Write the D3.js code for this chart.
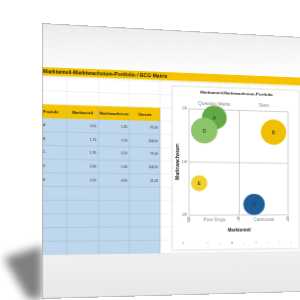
<!DOCTYPE html>
<html><head><meta charset="utf-8">
<script src="https://cdn.jsdelivr.net/npm/d3@7"></script>
<style>
html,body{margin:0;padding:0;width:300px;height:300px;overflow:hidden;background:#fff;}
#bg{position:absolute;left:0;top:0;}
#page{position:absolute;left:0;top:0;transform-origin:0 0;
 transform:matrix3d(1.09565,0.065565,0,0.00031673,0,1,0,0,0,0,1,0,42,23,0,1);}
text{font-family:"Liberation Sans",Arial,sans-serif;}
</style></head><body>
<svg id="bg" width="300" height="300"></svg>
<svg id="page" width="260" height="276"></svg>
<script>
// ---- data ----
const products = ["A","B","C","D","E"];
const marketShare = [0.50,1.70,1.30,0.30,0.20];
const marketGrowth = [1.85,1.60,0.20,1.60,0.60];
const revenue = [95,108,75,108,41];
const bubbleColors = ["#62a846","#f0c000","#1f5d96","#8cc56a","#f2d02f"];
const tableHeaders = ["Produkt","Marktanteil","Marktwachstum","Umsatz"];
const quadrantLabels = ["Question Marks","Stars","Poor Dogs","Cashcows"];
const axisTicks = [0,1,2];
const pageTitle = "Marktanteil-Marktwachstum-Portfolio / BCG-Matrix";
const chartTitle = "Marktanteil-Marktwachstum-Portfolio";
const xTitle = "Marktanteil";
const yTitle = "Marktwachstum";

const fmt = v => v.toFixed(2).replace(".", ",");
const rows = products.map((p,i)=>({p, s:marketShare[i], g:marketGrowth[i], r:revenue[i], c:bubbleColors[i]}));

// ---- background shadow (screen space) ----
const bg = d3.select("#bg");
const bdefs = bg.append("defs");
bdefs.append("filter").attr("id","blur").attr("x","-50%").attr("y","-50%").attr("width","200%").attr("height","200%")
  .append("feGaussianBlur").attr("stdDeviation",4);
bg.append("path").attr("d","M42,246 L42,299 L28,299 L4,258 Z")
  .attr("fill","#555").attr("opacity",0.75).attr("filter","url(#blur)");

// ---- page (flat space, projected by CSS) ----
const W = 260, H = 276;
const svg = d3.select("#page");
const defs = svg.append("defs");
const tg = defs.append("linearGradient").attr("id","topg").attr("x1",0).attr("y1",0).attr("x2",0.3).attr("y2",1);
tg.append("stop").attr("offset",0).attr("stop-color","#ebebeb");
tg.append("stop").attr("offset",0.6).attr("stop-color","#f6f6f6");
tg.append("stop").attr("offset",1).attr("stop-color","#fcfcfc");
const bgg = defs.append("linearGradient").attr("id","botg").attr("x1",0).attr("y1",0).attr("x2",0).attr("y2",1);
bgg.append("stop").attr("offset",0).attr("stop-color","#f0f0f0");
bgg.append("stop").attr("offset",1).attr("stop-color","#e8e8e8");

svg.append("rect").attr("width",W).attr("height",H).attr("fill","#fff");
svg.append("rect").attr("width",W).attr("height",44).attr("fill","url(#topg)");
svg.append("rect").attr("y",232).attr("width",W).attr("height",H-232).attr("fill","url(#botg)");

// spreadsheet grid
const rowH = 13.7, tableTop = 95;
const gridRows = d3.range(-3,11).map(k=>tableTop+rowH*k).filter(y=>y>52);
const gridCols = d3.range(0,8).map(k=>23+30*k);
svg.append("g").selectAll("line").data(gridRows).join("line")
  .attr("x1",0).attr("x2",W).attr("y1",d=>d).attr("y2",d=>d).attr("stroke","#e3e3e3").attr("stroke-width",0.5);
svg.append("g").selectAll("line").data(gridCols).join("line")
  .attr("x1",d=>d).attr("x2",d=>d).attr("y1",52).attr("y2",232).attr("stroke","#e3e3e3").attr("stroke-width",0.5);

// banner
svg.append("rect").attr("y",44).attr("width",W).attr("height",8.5).attr("fill","#f6c300");
svg.append("text").attr("x",1).attr("y",50.3).attr("font-size",5).attr("font-weight","bold").attr("fill","#111").text(pageTitle);

// table
const colX = [0,23,53,83,113];
svg.append("rect").attr("x",0).attr("y",81.3).attr("width",113).attr("height",tableTop-81.3).attr("fill","#f6c300");
svg.append("rect").attr("x",0).attr("y",tableTop).attr("width",113).attr("height",rowH*10).attr("fill","#bfd7ec");
svg.append("g").selectAll("line").data(d3.range(1,10).map(k=>tableTop+rowH*k)).join("line")
  .attr("x1",0).attr("x2",113).attr("y1",d=>d).attr("y2",d=>d).attr("stroke","#9fb7cc").attr("stroke-width",0.5);
svg.append("g").selectAll("line").data(colX.slice(1)).join("line")
  .attr("x1",d=>d).attr("x2",d=>d).attr("y1",81.3).attr("y2",tableTop+rowH*10).attr("stroke","#9fb7cc").attr("stroke-width",0.5);
tableHeaders.forEach((h,i)=>{
  svg.append("text").attr("x", i===0?1:(colX[i]+colX[i+1])/2).attr("y",89.8)
    .attr("text-anchor", i===0?"start":"middle").attr("font-size",3.7).attr("font-weight","bold").attr("fill","#222").text(h);
});
rows.forEach((d,i)=>{
  const y = tableTop + rowH*i + rowH/2 + 1.1;
  svg.append("text").attr("x",1).attr("y",y).attr("font-size",3.2).attr("fill","#333").text(d.p);
  [fmt(d.s),fmt(d.g),fmt(d.r)].forEach((t,j)=>{
    svg.append("text").attr("x",colX[j+2]-2).attr("y",y).attr("text-anchor","end").attr("font-size",3.2).attr("fill","#333").text(t);
  });
});

// chart box
svg.append("rect").attr("x",125).attr("y",58).attr("width",132).attr("height",171)
  .attr("fill","#fff").attr("stroke","#c9c9c9").attr("stroke-width",0.6);
svg.append("text").attr("x",191).attr("y",64.6).attr("text-anchor","middle").attr("font-size",4.3)
  .attr("font-weight","bold").attr("fill","#222").text(chartTitle);

const x = d3.scaleLinear().domain([0,2]).range([142,245]);
const y = d3.scaleLinear().domain([0,2]).range([192.4,81.6]);
const r = d3.scaleSqrt().domain([0,108]).range([0,13.5]);

const plot = svg.append("g");
plot.append("rect").attr("x",x(0)).attr("y",y(2)).attr("width",x(2)-x(0)).attr("height",y(0)-y(2))
  .attr("fill","none").attr("stroke","#b0b0b0").attr("stroke-width",0.6);
plot.append("line").attr("x1",x(1)).attr("x2",x(1)).attr("y1",y(2)).attr("y2",y(0)).attr("stroke","#b0b0b0").attr("stroke-width",0.6);
plot.append("line").attr("x1",x(0)).attr("x2",x(2)).attr("y1",y(1)).attr("y2",y(1)).attr("stroke","#b0b0b0").attr("stroke-width",0.6);

// ticks
axisTicks.forEach(t=>{
  plot.append("text").attr("x",x(0)-2).attr("y",y(t)+0.9).attr("text-anchor","end").attr("font-size",2.6).attr("fill","#444").text(fmt(t));
  plot.append("text").attr("transform",`translate(${x(t)+0.9},${y(0)+2}) rotate(-90)`).attr("text-anchor","end")
    .attr("font-size",2.6).attr("fill","#444").text(fmt(t));
});

// quadrant labels
const qpos = [[0.5,2,"top"],[1.5,2,"top"],[0.5,0,"bot"],[1.5,0,"bot"]];
quadrantLabels.forEach((q,i)=>{
  const [qx,qy,w] = qpos[i];
  plot.append("text").attr("x",x(qx)).attr("y", w==="top"? y(qy)-4.5 : y(qy)+7)
    .attr("text-anchor","middle").attr("font-size",4.8).attr("fill","#8a8a8a").text(q);
});

// bubbles
const b = plot.selectAll("g.b").data(rows).join("g").attr("class","b");
b.append("circle").attr("cx",d=>x(d.s)).attr("cy",d=>y(d.g)).attr("r",d=>r(d.r)).attr("fill",d=>d.c);
b.append("text").attr("x",d=>x(d.s)).attr("y",d=>y(d.g)+1.8).attr("text-anchor","middle")
  .attr("font-size",5).attr("fill","#2a2a2a").text(d=>d.p);

// axis titles
svg.append("text").attr("x",x(1)).attr("y",210.5).attr("text-anchor","middle").attr("font-size",4.6)
  .attr("font-weight","bold").attr("fill","#222").text(xTitle);
svg.append("text").attr("transform",`translate(132,${y(1)}) rotate(-90)`).attr("text-anchor","middle")
  .attr("font-size",5).attr("font-weight","bold").attr("fill","#222").text(yTitle);

// legend
const lg = svg.append("g");
rows.forEach((d,i)=>{
  const lx = 136 + 25*i;
  lg.append("rect").attr("x",lx-1).attr("y",221.2).attr("width",2).attr("height",1.2).attr("fill",d.c).attr("opacity",0.6);
  lg.append("text").attr("x",lx+12).attr("y",222.6).attr("text-anchor","middle").attr("font-size",2.2).attr("fill","#aaa").text(d.p);
});

// page border
svg.append("rect").attr("x",0.3).attr("y",0.3).attr("width",W-0.6).attr("height",H-0.6)
  .attr("fill","none").attr("stroke","#a6a6a6").attr("stroke-width",0.7);
</script>
</body></html>
